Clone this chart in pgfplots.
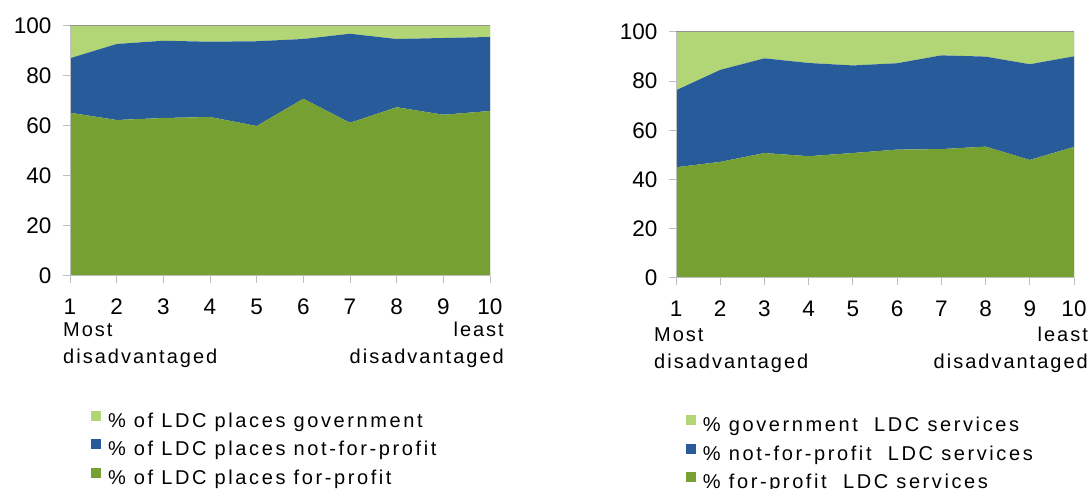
\documentclass[border=0pt]{standalone}
\usepackage{pgfplots}
\pgfplotsset{compat=1.18}
\usepackage{fontspec}
\setmainfont{Liberation Sans}
\newfontfamily\lsfont[LetterSpace=10]{Liberation Sans}
\newfontfamily\lgfont[LetterSpace=13]{Liberation Sans}
\definecolor{govc}{RGB}{178,214,118}
\definecolor{nfpc}{RGB}{40,91,153}
\definecolor{fpc}{RGB}{118,161,50}
\definecolor{axc}{RGB}{190,190,190}
\definecolor{brc}{RGB}{140,140,140}
\pgfplotsset{
 mystyle/.style={
  scale only axis,
  xmin=1,xmax=10,ymin=0,ymax=100,
  xtick={1,...,10}, ytick={0,20,...,100},
  stack plots=y,
  axis lines*=left, axis line style={-,axc,line width=1pt},
  tick style={axc,line width=1pt}, tick align=outside, major tick length=7pt,
  tick label style={font=\fontsize{22.5}{26}\selectfont},
  xticklabel style={yshift=-12pt},
  yticklabel style={xshift=-8pt},
  /pgf/number format/assume math mode=true,
  axis on top,
  reverse legend,
  legend cell align=left,
  legend image code/.code={\fill[##1] (0pt,2pt) rectangle (10pt,12pt); \path (17pt,7pt);},
  legend style={draw=none, fill=none, inner sep=0pt, outer sep=0pt,
    anchor=north west, font=\lgfont\fontsize{20}{24}\selectfont,
    nodes={inner sep=0pt, text height=14pt, text depth=5pt}, row sep=7pt},
 }
}
\begin{document}
\begin{tikzpicture}
\useasboundingbox (0pt,0pt) rectangle (1091pt,489pt);
\begin{axis}[mystyle, at={(70pt,213pt)}, anchor=south west, width=420pt, height=250pt,
  legend style={at={(axis description cs:0.05,-0.54)}}]
\addplot[fill=fpc, draw=none] coordinates {(1,65.3)(2,62.4)(3,63.2)(4,63.6)(5,60.0)(6,70.9)(7,61.3)(8,67.5)(9,64.5)(10,66.0)} \closedcycle;
\addplot[fill=nfpc, draw=none] coordinates {(1,21.8)(2,30.4)(3,30.9)(4,30.1)(5,33.9)(6,23.9)(7,35.6)(8,27.3)(9,30.7)(10,29.6)} \closedcycle;
\addplot[fill=govc, draw=none] coordinates {(1,12.9)(2,7.2)(3,5.9)(4,6.3)(5,6.1)(6,5.2)(7,3.1)(8,5.2)(9,4.8)(10,4.4)} \closedcycle;
\legend{\% of LDC places for-profit, \% of LDC places not-for-profit, \% of LDC places government}
\draw[brc, line width=1pt] (rel axis cs:0,1) -- (rel axis cs:1,1) -- (rel axis cs:1,0);
\end{axis}
\node[anchor=base west, inner sep=0pt, font=\lsfont\fontsize{20}{24}\selectfont] at (63pt,152pt) {Most};
\node[anchor=base west, inner sep=0pt, font=\lsfont\fontsize{20}{24}\selectfont] at (63pt,125pt) {disadvantaged};
\node[anchor=base east, inner sep=0pt, font=\lsfont\fontsize{20}{24}\selectfont] at (504pt,152pt) {least};
\node[anchor=base east, inner sep=0pt, font=\lsfont\fontsize{20}{24}\selectfont] at (504pt,125pt) {disadvantaged};
\begin{axis}[mystyle, at={(676pt,211pt)}, anchor=south west, width=398pt, height=246pt,
  legend style={at={(axis description cs:0.025,-0.557)}}]
\addplot[fill=fpc, draw=none] coordinates {(1,45.0)(2,47.2)(3,50.8)(4,49.5)(5,50.8)(6,52.2)(7,52.4)(8,53.4)(9,48.0)(10,53.3)} \closedcycle;
\addplot[fill=nfpc, draw=none] coordinates {(1,31.3)(2,37.4)(3,38.5)(4,37.9)(5,35.6)(6,35.1)(7,38.1)(8,36.6)(9,38.9)(10,36.8)} \closedcycle;
\addplot[fill=govc, draw=none] coordinates {(1,23.7)(2,15.4)(3,10.7)(4,12.6)(5,13.6)(6,12.7)(7,9.5)(8,10.0)(9,13.1)(10,9.9)} \closedcycle;
\legend{\% for-profit\ \ LDC services, \% not-for-profit\ \ LDC services, \% government\ \ LDC services}
\draw[brc, line width=1pt] (rel axis cs:0,1) -- (rel axis cs:1,1) -- (rel axis cs:1,0);
\end{axis}
\node[anchor=base west, inner sep=0pt, font=\lsfont\fontsize{20}{24}\selectfont] at (654pt,147pt) {Most};
\node[anchor=base west, inner sep=0pt, font=\lsfont\fontsize{20}{24}\selectfont] at (654pt,120pt) {disadvantaged};
\node[anchor=base east, inner sep=0pt, font=\lsfont\fontsize{20}{24}\selectfont] at (1088pt,147pt) {least};
\node[anchor=base east, inner sep=0pt, font=\lsfont\fontsize{20}{24}\selectfont] at (1088pt,120pt) {disadvantaged};
\end{tikzpicture}
\end{document}
